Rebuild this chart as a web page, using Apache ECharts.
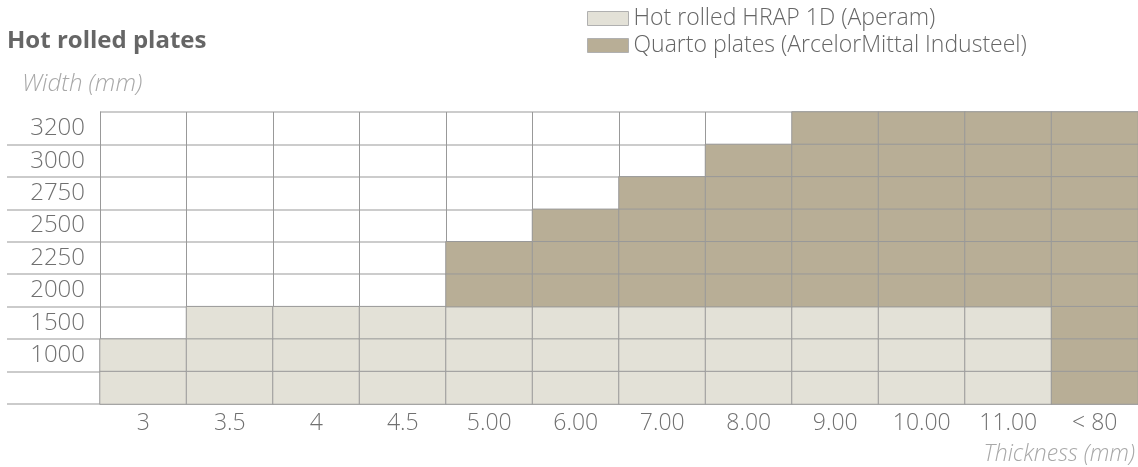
<!DOCTYPE html>
<html>
<head>
<meta charset="utf-8">
<script src="https://cdn.jsdelivr.net/npm/echarts@6/dist/echarts.min.js"></script>
<style>
html,body{margin:0;padding:0;background:#fff;}
#chart{width:1138px;height:467px;}
</style>
</head>
<body>
<div id="chart"></div>
<script>
// Thickness categories (x axis)
const thickness = ['3', '3.5', '4', '4.5', '5.00', '6.00', '7.00', '8.00', '9.00', '10.00', '11.00', '< 80'];
// Width categories (y axis), top to bottom
const widths = ['3200', '3000', '2750', '2500', '2250', '2000', '1500', '1000', ''];

// Hot rolled HRAP 1D: width range covered per thickness (null = not available)
const hrapMin = ['', '', '', '', '', '', '', '', '', '', '', null];
const hrapMax = ['1000', '1500', '1500', '1500', '1500', '1500', '1500', '1500', '1500', '1500', '1500', null];
// Quarto plates: width range covered per thickness
const quartoMin = [null, null, null, null, '2000', '2000', '2000', '2000', '2000', '2000', '2000', ''];
const quartoMax = [null, null, null, null, '2250', '2500', '2750', '3000', '3200', '3200', '3200', '3200'];

const seriesNames = ['Hot rolled HRAP 1D (Aperam)', 'Quarto plates (ArcelorMittal Industeel)'];
const seriesColors = ['#e3e1d7', '#b8ae96'];

function buildCells(minArr, maxArr) {
  const out = [];
  thickness.forEach(function (t, xi) {
    if (minArr[xi] === null || maxArr[xi] === null) return;
    const lo = widths.indexOf(minArr[xi]);
    const hi = widths.indexOf(maxArr[xi]);
    for (let yi = hi; yi <= lo; yi++) out.push([xi, yi, 1]);
  });
  return out;
}

const FONT = '"Open Sans", "Noto Sans", sans-serif';
const chart = echarts.init(document.getElementById('chart'));
chart.setOption({
  animation: false,
  backgroundColor: '#fff',
  title: [
    { text: 'Hot rolled plates', left: 7, top: 29, padding: 0,
      textStyle: { fontFamily: FONT, fontSize: 24, fontWeight: 'bold', color: '#666' } },
    { text: 'Width (mm)', left: 22, top: 72, padding: 0,
      textStyle: { fontFamily: FONT, fontSize: 24, fontStyle: 'italic', fontWeight: 300, color: '#a8a8a8' } },
    { text: 'Thickness (mm)', right: 3, top: 443, padding: 0,
      textStyle: { fontFamily: FONT, fontSize: 23, fontStyle: 'italic', fontWeight: 300, color: '#a8a8a8' } }
  ],
  legend: {
    orient: 'vertical',
    left: 587, top: 5, padding: 0,
    itemWidth: 41, itemHeight: 14, itemGap: 0,
    icon: 'rect',
    data: seriesNames,
    itemStyle: { borderColor: '#b0b0b0', borderWidth: 1 },
    textStyle: { fontFamily: FONT, fontSize: 23, fontWeight: 300, lineHeight: 22, padding: [5, 0, 0, 0], color: '#666' },
    selectedMode: false
  },
  grid: { left: 100, top: 112, width: 1045, height: 292, containLabel: false },
  xAxis: {
    type: 'category',
    data: thickness,
    position: 'bottom',
    axisLine: { show: true, lineStyle: { color: '#bbb', width: 1.5 } },
    axisTick: { show: false },
    axisLabel: { interval: 0, margin: 8, fontFamily: FONT, fontSize: 23, fontWeight: 300, color: '#707070' },
    splitLine: { show: true, interval: 0, lineStyle: { color: '#999', width: 1 } }
  },
  yAxis: {
    type: 'category',
    data: widths,
    inverse: true,
    axisLine: { show: true, lineStyle: { color: '#999', width: 1 } },
    axisTick: { show: true, length: 93, interval: function (idx) { return idx !== 0; },
      lineStyle: { color: '#bbb', width: 1.5 } },
    axisLabel: { interval: 0, margin: 15, fontFamily: FONT, fontSize: 24, fontWeight: 300, color: '#707070',
      padding: [3, 0, 0, 0] },
    splitLine: { show: true, interval: 0, lineStyle: { color: '#bbb', width: 1.5 } }
  },
  series: [
    { name: seriesNames[0], type: 'heatmap', data: buildCells(hrapMin, hrapMax),
      itemStyle: { color: seriesColors[0], borderColor: '#999', borderWidth: 1 },
      emphasis: { disabled: true }, label: { show: false } },
    { name: seriesNames[1], type: 'heatmap', data: buildCells(quartoMin, quartoMax),
      itemStyle: { color: seriesColors[1], borderColor: '#999', borderWidth: 1 },
      emphasis: { disabled: true }, label: { show: false } }
  ]
});
</script>
</body>
</html>
